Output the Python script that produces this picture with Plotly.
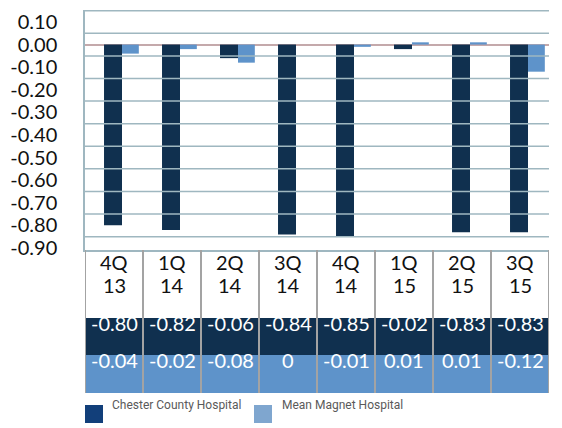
import plotly.graph_objects as go

# Quarter labels (two-line headers of the data table)
quarters = ["4Q", "1Q", "2Q", "3Q", "4Q", "1Q", "2Q", "3Q"]
years = ["13", "14", "14", "14", "14", "15", "15", "15"]

# Series values
chester = [-0.80, -0.82, -0.06, -0.84, -0.85, -0.02, -0.83, -0.83]
magnet = [-0.04, -0.02, -0.08, 0, -0.01, 0.01, 0.01, -0.12]
series_names = ["Chester County Hospital", "Mean Magnet Hospital"]

# Y axis ticks
y_tick_vals = [0.10, 0.00, -0.10, -0.20, -0.30, -0.40, -0.50, -0.60, -0.70, -0.80, -0.90]
y_tick_text = ["0.10", "0.00", "-0.10", "-0.20", "-0.30", "-0.40", "-0.50",
               "-0.60", "-0.70", "-0.80", "-0.90"]

DARK = "#10304f"
LIGHT = "#5e93ca"
DARK_KEY = "#123f7a"
LIGHT_KEY = "#7fa6cf"
GRID = "#9fb7c0"
FONT = "Lato, 'Open Sans', sans-serif"

W, H = 562, 428
M_L, M_R, M_T, M_B = 85, 13, 10, 178
plot_h = H - M_T - M_B
plot_w = W - M_L - M_R

# back-wall gridlines sit half a step above each labelled value (3-D look)
WALL_SHIFT = 0.05
wall_grid = [round(v + WALL_SHIFT, 2) for v in y_tick_vals]


def py(px):
    """Pixel row -> paper y coordinate."""
    return (H - M_B - px) / plot_h


def pxx(px):
    """Pixel column -> paper x coordinate."""
    return (px - M_L) / plot_w


n = len(quarters)
xs = list(range(n))

# Back-wall gridlines as one line trace behind the bars
grid_x, grid_y = [], []
for g in wall_grid:
    grid_x += [-0.5, n - 0.5, None]
    grid_y += [g, g, None]

fig = go.Figure()
fig.add_trace(go.Scatter(x=grid_x, y=grid_y, mode="lines",
                         line=dict(color=GRID, width=1.5),
                         showlegend=False, hoverinfo="skip", cliponaxis=False))
fig.add_trace(go.Bar(x=xs, y=chester, name=series_names[0], marker_color=DARK,
                     marker_line_width=0, width=0.31, offset=-0.172, showlegend=False))
fig.add_trace(go.Bar(x=xs, y=magnet, name=series_names[1], marker_color=LIGHT,
                     marker_line_width=0, width=0.29, offset=0.138, showlegend=False))

shapes = []
annotations = []

# Data table under the plot
for i in xs:
    shapes.append(dict(type="rect", xref="x", yref="paper", x0=i - 0.5, x1=i + 0.5,
                       y0=py(355), y1=py(318), fillcolor=DARK, line_width=0))
    shapes.append(dict(type="rect", xref="x", yref="paper", x0=i - 0.5, x1=i + 0.5,
                       y0=py(393), y1=py(355), fillcolor=LIGHT, line_width=0))
    annotations.append(dict(x=i, y=py(276), xref="x", yref="paper", text=quarters[i],
                            showarrow=False, font=dict(size=20, color="#111", family=FONT)))
    annotations.append(dict(x=i, y=py(299), xref="x", yref="paper", text=years[i],
                            showarrow=False, font=dict(size=20, color="#111", family=FONT)))
    annotations.append(dict(x=i, y=py(337), xref="x", yref="paper", text=f"{chester[i]:.2f}",
                            showarrow=False, font=dict(size=20, color="white", family=FONT)))
    mv = magnet[i]
    annotations.append(dict(x=i, y=py(374), xref="x", yref="paper",
                            text="0" if mv == 0 else f"{mv:.2f}",
                            showarrow=False, font=dict(size=20, color="white", family=FONT)))

for i in range(n + 1):
    shapes.append(dict(type="line", xref="x", yref="paper", x0=i - 0.5, x1=i - 0.5,
                       y0=py(250), y1=py(393), line=dict(color="#a3a3a3", width=2)))

# Legend keys
legend_items = [(85, 110, DARK_KEY), (254, 280, LIGHT_KEY)]
for (sx, tx, col), name in zip(legend_items, series_names):
    shapes.append(dict(type="rect", xref="paper", yref="paper", x0=pxx(sx), x1=pxx(sx + 18),
                       y0=py(423), y1=py(405), fillcolor=col, line_width=0))
    annotations.append(dict(x=pxx(tx), y=py(414), xref="paper", yref="paper", text=name,
                            xanchor="left", showarrow=False,
                            font=dict(size=12, color="#5a5a5a",
                                      family="'Liberation Sans Narrow', Roboto, sans-serif")))

fig.update_layout(
    width=W, height=H,
    margin=dict(l=M_L, r=M_R, t=M_T, b=M_B, pad=0),
    paper_bgcolor="white", plot_bgcolor="white",
    barmode="overlay",
    shapes=shapes, annotations=annotations,
    xaxis=dict(range=[-0.5, n - 0.5], showticklabels=False, showgrid=False,
               zeroline=False, showline=True, linecolor=GRID, linewidth=1.5, fixedrange=True),
    yaxis=dict(range=[-0.909, 0.153], tickmode="array", tickvals=y_tick_vals,
               ticktext=y_tick_text, showgrid=False,
               tickfont=dict(size=20, color="#111", family=FONT),
               ticks="", ticklabelstandoff=22,
               showline=True, linecolor=GRID, linewidth=1.5,
               zeroline=True, zerolinecolor="#c4a9ab", zerolinewidth=1.5,
               fixedrange=True),
)

fig.write_html("out.html")
